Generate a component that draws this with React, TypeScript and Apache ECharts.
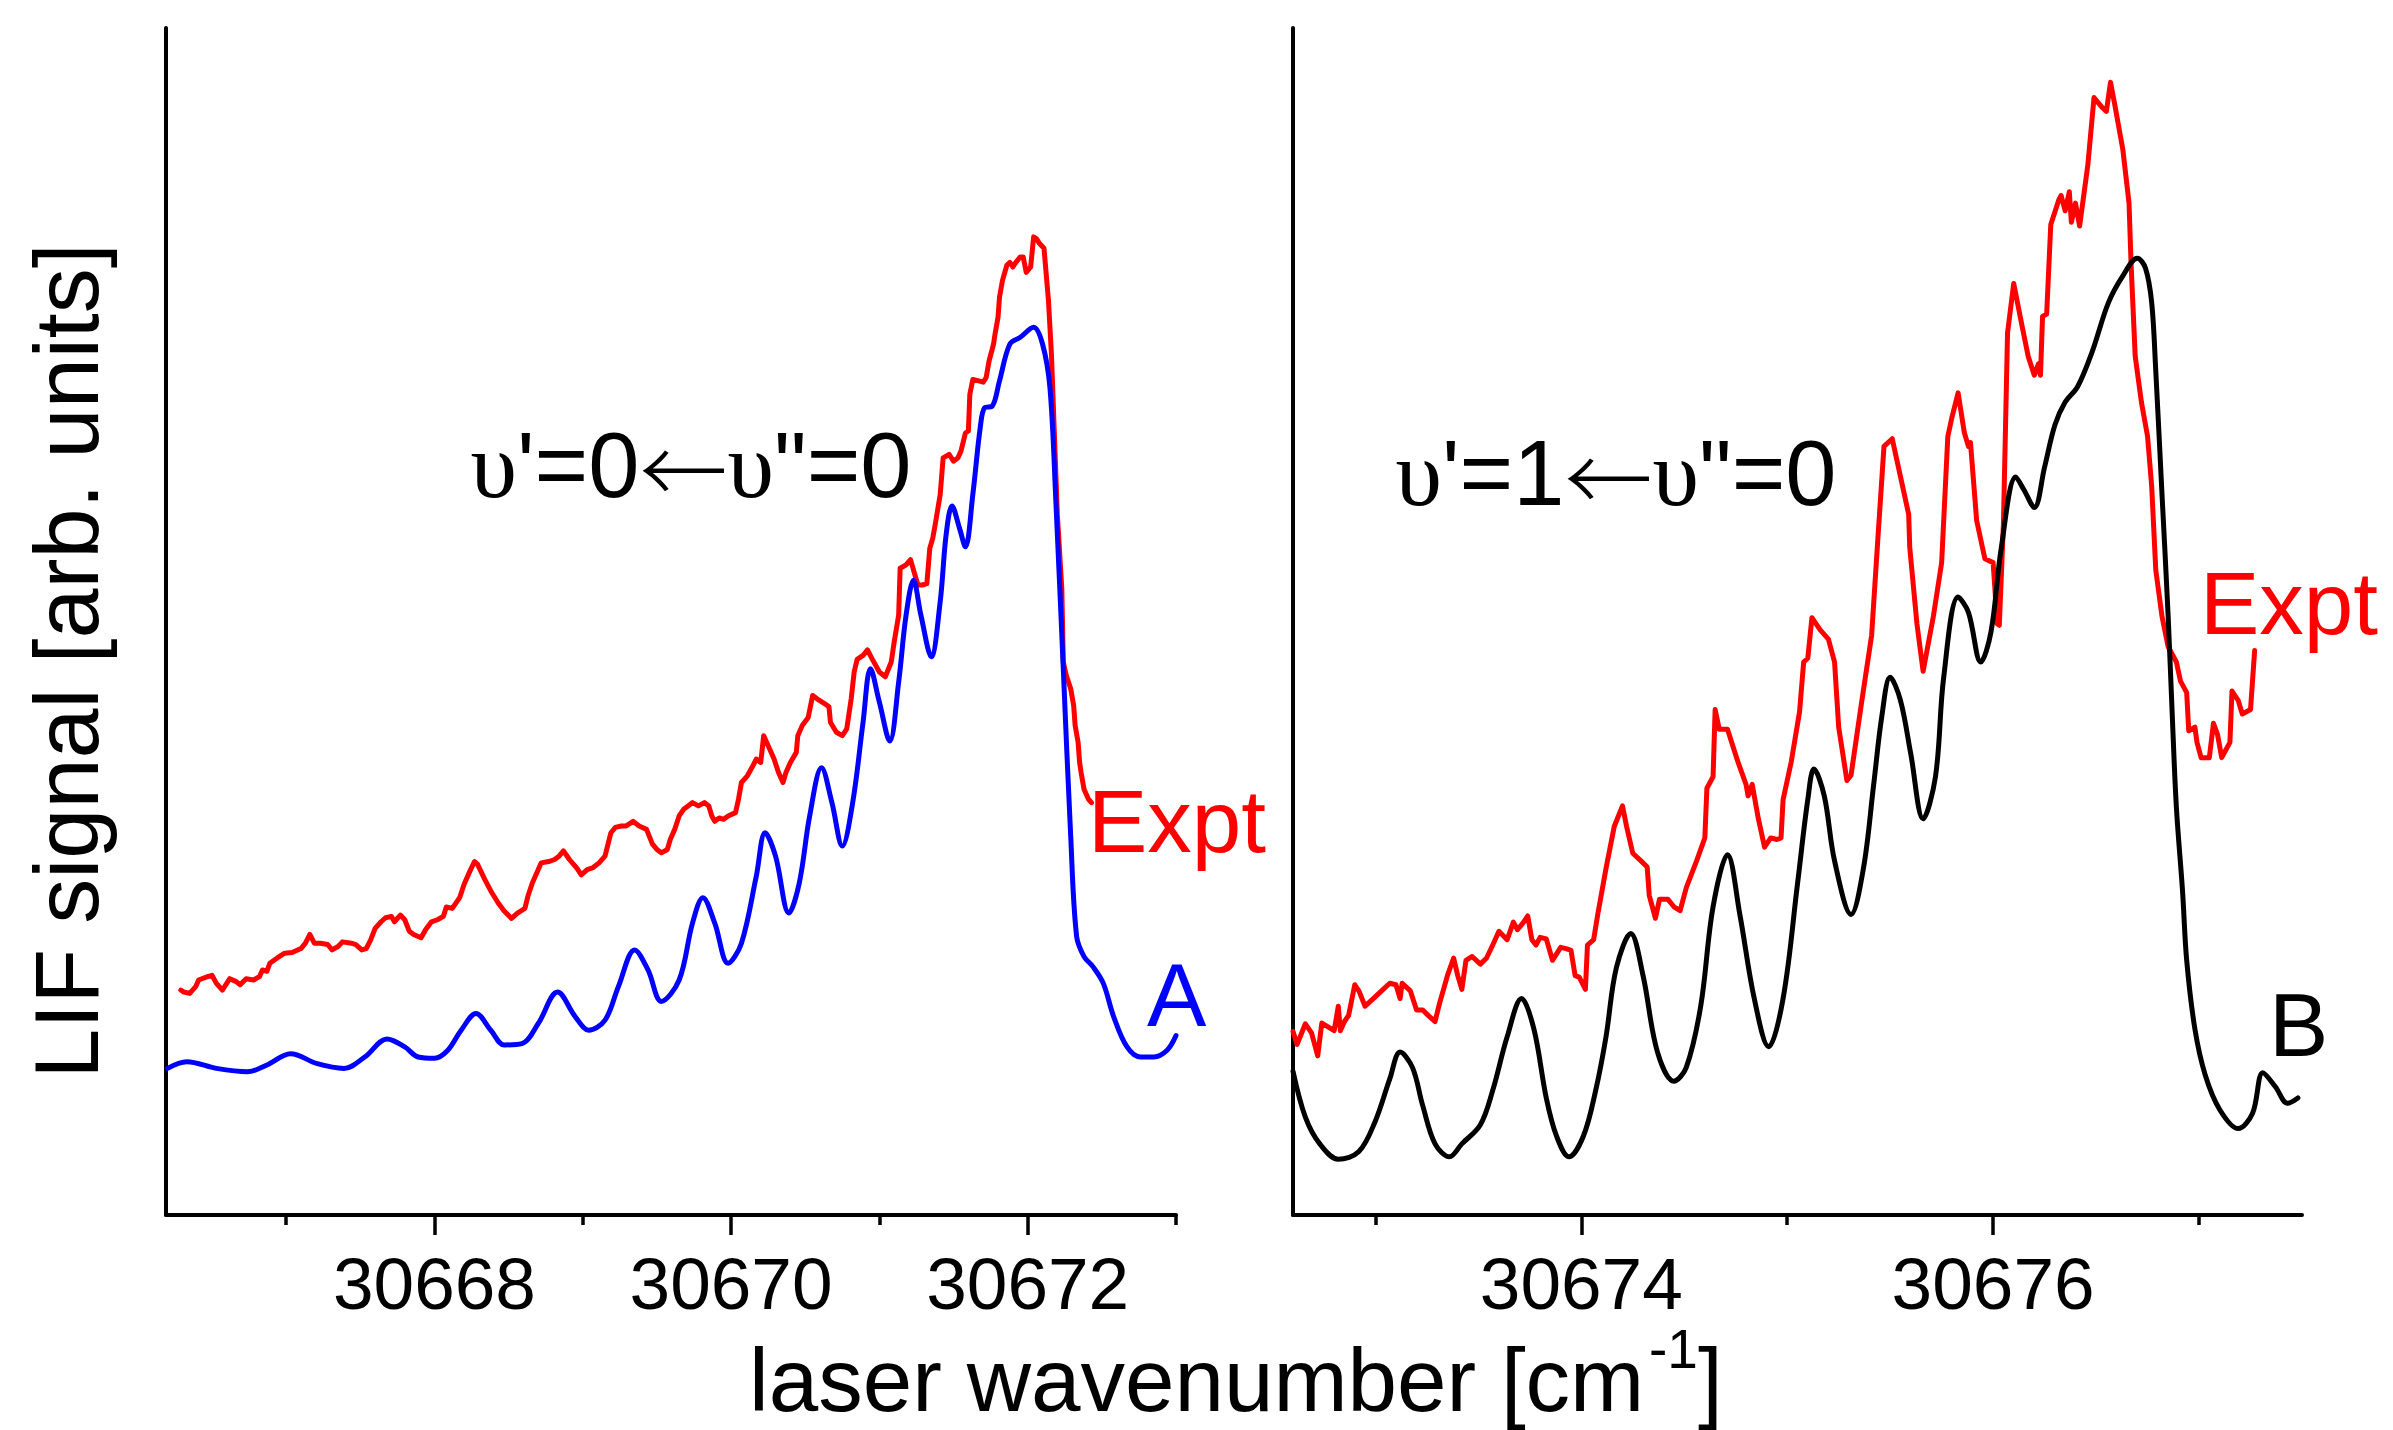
import React, { useEffect, useRef } from "react";
import * as echarts from "echarts";

// Panel A (v'=0 <- v''=0): x = laser wavenumber [cm-1], y = LIF signal (arb.)
const exptA: [number, number][] = [
  [30666.29,340],[30666.31,337],[30666.35,335],[30666.39,345],[30666.41,355],[30666.47,360],[30666.50,362],[30666.53,350],[30666.57,340],[30666.62,357],[30666.66,353],[30666.69,348],[30666.73,357],[30666.78,355],[30666.82,360],[30666.84,370],[30666.87,368],[30666.89,380],[30666.94,388],[30666.99,395],[30667.04,396],[30667.10,402],[30667.13,410],[30667.16,423],[30667.19,410],[30667.23,410],[30667.28,408],[30667.31,400],[30667.35,405],[30667.38,412],[30667.44,410],[30667.47,408],[30667.51,400],[30667.54,402],[30667.57,415],[30667.60,432],[30667.64,442],[30667.67,448],[30667.71,450],[30667.73,442],[30667.77,452],[30667.80,445],[30667.83,428],[30667.86,423],[30667.91,418],[30667.94,430],[30667.98,442],[30668.02,445],[30668.06,450],[30668.08,464],[30668.12,462],[30668.17,478],[30668.20,498],[30668.24,518],[30668.27,532],[30668.29,528],[30668.34,505],[30668.38,488],[30668.43,470],[30668.47,458],[30668.52,447],[30668.56,455],[30668.61,462],[30668.63,480],[30668.66,500],[30668.70,520],[30668.72,530],[30668.77,532],[30668.81,535],[30668.84,540],[30668.87,548],[30668.91,535],[30668.96,522],[30668.99,512],[30669.03,520],[30669.07,523],[30669.11,530],[30669.15,540],[30669.19,575],[30669.22,583],[30669.26,585],[30669.29,585],[30669.34,592],[30669.38,585],[30669.43,580],[30669.47,558],[30669.50,550],[30669.53,545],[30669.57,550],[30669.59,565],[30669.62,580],[30669.65,600],[30669.68,610],[30669.71,615],[30669.74,620],[30669.78,615],[30669.82,620],[30669.85,615],[30669.87,600],[30669.89,592],[30669.92,597],[30669.95,595],[30669.98,600],[30670.03,605],[30670.05,625],[30670.07,650],[30670.11,660],[30670.14,672],[30670.17,685],[30670.20,680],[30670.22,720],[30670.26,700],[30670.29,685],[30670.32,665],[30670.35,650],[30670.37,665],[30670.40,680],[30670.44,695],[30670.45,720],[30670.48,735],[30670.52,747],[30670.55,780],[30670.58,775],[30670.63,768],[30670.66,763],[30670.67,740],[30670.71,725],[30670.75,720],[30670.78,730],[30670.81,775],[30670.83,815],[30670.85,834],[30670.89,840],[30670.92,848],[30670.95,835],[30671.00,815],[30671.04,808],[30671.08,830],[30671.10,860],[30671.13,900],[30671.14,970],[30671.18,975],[30671.21,983],[30671.24,960],[30671.26,945],[30671.29,945],[30671.32,947],[30671.34,1000],[30671.36,1015],[30671.38,1040],[30671.41,1080],[30671.43,1135],[30671.47,1140],[30671.50,1130],[30671.53,1135],[30671.55,1145],[30671.58,1172],[30671.60,1175],[30671.61,1230],[30671.63,1252],[30671.67,1250],[30671.70,1248],[30671.72,1255],[30671.74,1280],[30671.77,1305],[30671.78,1320],[30671.80,1345],[30671.81,1375],[30671.83,1400],[30671.86,1423],[30671.88,1427],[30671.90,1420],[30671.92,1427],[30671.95,1435],[30671.97,1435],[30671.99,1412],[30672.02,1420],[30672.04,1465],[30672.06,1462],[30672.08,1455],[30672.11,1448],[30672.14,1370],[30672.16,1290],[30672.18,1170],[30672.20,1050],[30672.23,940],[30672.24,830],[30672.26,810],[30672.29,790],[30672.31,765],[30672.32,735],[30672.34,710],[30672.35,680],[30672.36,665],[30672.38,640],[30672.41,625],[30672.43,620]
];

const simA: [number, number][] = [
  [30666.2,223],[30666.33,233],[30666.53,223],[30666.74,218],[30666.87,228],[30667.03,245],[30667.21,230],[30667.39,223],[30667.53,240],[30667.68,267],[30667.80,255],[30667.89,240],[30668.00,238],[30668.09,250],[30668.18,280],[30668.28,305],[30668.38,280],[30668.47,258],[30668.59,260],[30668.70,290],[30668.83,337],[30668.95,300],[30669.04,280],[30669.15,295],[30669.24,345],[30669.35,400],[30669.44,370],[30669.53,323],[30669.65,355],[30669.74,440],[30669.81,478],[30669.89,440],[30669.98,380],[30670.07,410],[30670.17,510],[30670.23,575],[30670.30,540],[30670.39,455],[30670.46,500],[30670.53,600],[30670.61,672],[30670.68,620],[30670.75,555],[30670.82,620],[30670.89,740],[30670.94,820],[30671.00,770],[30671.07,712],[30671.13,800],[30671.18,900],[30671.23,952],[30671.28,900],[30671.35,838],[30671.41,920],[30671.45,1020],[30671.49,1063],[30671.54,1030],[30671.58,1002],[30671.63,1080],[30671.68,1180],[30671.71,1210],[30671.76,1212],[30671.81,1250],[30671.88,1305],[30671.95,1315],[30672.04,1330],[30672.10,1305],[30672.15,1240],[30672.19,1070],[30672.24,820],[30672.29,570],[30672.33,420],[30672.38,390],[30672.44,375],[30672.51,350],[30672.58,300],[30672.67,255],[30672.76,240],[30672.85,240],[30672.94,250],[30673.00,272]
];

// Panel B (v'=1 <- v''=0)
const exptB: [number, number][] = [
  [30672.60,243],[30672.62,226],[30672.66,253],[30672.69,241],[30672.72,211],[30672.74,254],[30672.77,249],[30672.80,244],[30672.82,276],[30672.83,244],[30672.85,256],[30672.87,264],[30672.90,304],[30672.92,296],[30672.95,276],[30672.99,286],[30673.03,296],[30673.07,306],[30673.10,304],[30673.12,286],[30673.13,306],[30673.17,296],[30673.20,271],[30673.23,271],[30673.26,263],[30673.29,256],[30673.31,278],[30673.35,316],[30673.38,339],[30673.40,316],[30673.42,298],[30673.44,336],[30673.47,341],[30673.51,331],[30673.54,339],[30673.57,356],[30673.60,374],[30673.64,363],[30673.67,386],[30673.69,376],[30673.72,386],[30673.74,394],[30673.76,363],[30673.78,356],[30673.80,366],[30673.83,364],[30673.86,336],[30673.90,353],[30673.93,351],[30673.95,349],[30673.97,316],[30673.99,314],[30674.02,298],[30674.03,356],[30674.06,363],[30674.08,396],[30674.12,456],[30674.16,511],[30674.20,538],[30674.22,511],[30674.25,476],[30674.29,466],[30674.32,458],[30674.33,421],[30674.36,391],[30674.38,416],[30674.42,416],[30674.45,406],[30674.48,401],[30674.51,431],[30674.56,466],[30674.60,496],[30674.61,561],[30674.64,576],[30674.65,664],[30674.67,638],[30674.71,638],[30674.76,596],[30674.80,566],[30674.81,551],[30674.83,566],[30674.86,521],[30674.89,484],[30674.92,496],[30674.95,494],[30674.97,496],[30674.98,546],[30675.02,596],[30675.06,661],[30675.08,726],[30675.10,731],[30675.12,784],[30675.16,768],[30675.20,756],[30675.23,726],[30675.25,641],[30675.29,571],[30675.31,578],[30675.36,671],[30675.41,761],[30675.44,886],[30675.47,1008],[30675.51,1018],[30675.59,919],[30675.595,876],[30675.63,776],[30675.66,714],[30675.71,786],[30675.75,856],[30675.78,1021],[30675.80,1046],[30675.83,1078],[30675.86,1026],[30675.88,1008],[30675.89,1013],[30675.92,911],[30675.96,861],[30676.00,856],[30676.02,776],[30676.03,774],[30676.05,906],[30676.07,1156],[30676.10,1221],[30676.14,1166],[30676.17,1126],[30676.20,1101],[30676.22,1116],[30676.23,1101],[30676.24,1178],[30676.26,1181],[30676.28,1298],[30676.32,1331],[30676.33,1336],[30676.35,1316],[30676.37,1341],[30676.38,1301],[30676.40,1326],[30676.42,1296],[30676.46,1376],[30676.49,1464],[30676.53,1451],[30676.55,1446],[30676.57,1484],[30676.59,1456],[30676.63,1396],[30676.66,1326],[30676.67,1246],[30676.69,1126],[30676.72,1066],[30676.75,1021],[30676.77,956],[30676.79,846],[30676.82,786],[30676.85,746],[30676.89,726],[30676.91,701],[30676.94,686],[30676.95,636],[30676.98,641],[30676.99,621],[30677.01,601],[30677.05,601],[30677.07,646],[30677.09,631],[30677.11,601],[30677.13,611],[30677.15,621],[30677.16,688],[30677.19,676],[30677.21,658],[30677.25,664],[30677.27,741]
];

const simB: [number, number][] = [
  [30672.60,191],[30672.66,131],[30672.73,96],[30672.82,76],[30672.92,86],[30673.00,126],[30673.07,181],[30673.12,216],[30673.18,196],[30673.23,146],[30673.29,96],[30673.36,79],[30673.42,96],[30673.51,121],[30673.57,166],[30673.64,236],[30673.71,286],[30673.77,246],[30673.83,156],[30673.88,106],[30673.94,79],[30674.01,106],[30674.07,166],[30674.12,236],[30674.17,326],[30674.24,371],[30674.30,316],[30674.37,216],[30674.45,178],[30674.51,196],[30674.58,276],[30674.64,406],[30674.71,474],[30674.77,396],[30674.84,286],[30674.91,223],[30674.98,286],[30675.05,436],[30675.10,546],[30675.13,586],[30675.18,551],[30675.23,466],[30675.31,396],[30675.37,456],[30675.42,566],[30675.46,656],[30675.50,706],[30675.55,676],[30675.60,606],[30675.66,521],[30675.72,576],[30675.76,706],[30675.83,811],[30675.88,791],[30675.94,726],[30675.99,766],[30676.04,876],[30676.11,968],[30676.15,951],[30676.20,928],[30676.25,981],[30676.30,1036],[30676.35,1066],[30676.41,1086],[30676.48,1131],[30676.56,1196],[30676.63,1231],[30676.70,1254],[30676.74,1241],[30676.77,1196],[30676.79,1106],[30676.82,946],[30676.85,786],[30676.87,656],[30676.89,536],[30676.92,426],[30676.94,336],[30676.98,246],[30677.03,186],[30677.10,141],[30677.19,116],[30677.26,136],[30677.31,189],[30677.37,171],[30677.43,149],[30677.48,156]
];

const majorTicksA = [30668, 30670, 30672];
const minorTicksA = [30667, 30669, 30671, 30673];
const majorTicksB = [30674, 30676];
const minorTicksB = [30673, 30675, 30677];

const FONT = '"Liberation Sans", Arial, sans-serif';
const SERIF = '"Liberation Serif", "DejaVu Serif", serif';
const ARROW = '"Noto Sans CJK JP", "Noto Sans CJK SC", "DejaVu Sans", sans-serif';

function majorAxis(gridIndex: number, min: number, max: number, ticks: number[]) {
  return {
    type: "value",
    gridIndex,
    position: "bottom",
    min,
    max,
    axisLine: { show: true, onZero: false, lineStyle: { color: "#000", width: 4 } },
    axisTick: { show: true, customValues: ticks, length: 20, lineStyle: { color: "#000", width: 3.5 } },
    axisLabel: {
      show: true,
      customValues: ticks,
      margin: 32,
      fontSize: 73,
      fontFamily: FONT,
      color: "#000",
      formatter: (v: number) => String(v),
    },
    splitLine: { show: false },
  };
}

function minorAxis(gridIndex: number, min: number, max: number, ticks: number[]) {
  return {
    type: "value",
    gridIndex,
    position: "bottom",
    min,
    max,
    axisLine: { show: false, onZero: false },
    axisTick: { show: true, customValues: ticks, length: 10, lineStyle: { color: "#000", width: 3.5 } },
    axisLabel: { show: false },
    splitLine: { show: false },
  };
}

function yAxisDef(gridIndex: number, min: number, max: number) {
  return {
    type: "value",
    gridIndex,
    min,
    max,
    axisLine: { show: true, onZero: false, lineStyle: { color: "#000", width: 4 } },
    axisTick: { show: false },
    axisLabel: { show: false },
    splitLine: { show: false },
  };
}

function label(x: number, y: number, text: string, color: string, size = 89, align = "left") {
  return {
    type: "text",
    x,
    y,
    style: {
      text,
      fill: color,
      fontSize: size,
      fontFamily: FONT,
      align,
      textAlign: align,
      verticalAlign: "middle",
      textVerticalAlign: "middle",
    },
  };
}

function transition(x: number, y: number, upper: string) {
  return {
    type: "text",
    x,
    y,
    style: {
      text: "{g|υ}'=" + upper + "{a|←}{g|υ}\"=0",
      fill: "#000",
      fontSize: 92,
      fontFamily: FONT,
      align: "center",
      textAlign: "center",
      verticalAlign: "middle",
      textVerticalAlign: "middle",
      rich: {
        g: { fontFamily: SERIF, fontSize: 94, fill: "#000" },
        a: { fontFamily: ARROW, fontSize: 88, fill: "#000", fontWeight: 300 },
      },
    },
  };
}

export default function App() {
  const ref = useRef<HTMLDivElement>(null);
  useEffect(() => {
    if (!ref.current) return;
    const chart = echarts.init(ref.current, undefined, { renderer: "svg" });
    const line = (data: [number, number][], color: string, xi: number, yi: number, smooth: number | boolean) => ({
      type: "line",
      xAxisIndex: xi,
      yAxisIndex: yi,
      data,
      smooth,
      showSymbol: false,
      symbol: "none",
      lineStyle: { color, width: 5, join: "round", cap: "round" },
      emphasis: { disabled: true },
      silent: true,
      z: 3,
    });
    chart.setOption({
      animation: false,
      backgroundColor: "#fff",
      grid: [
        { left: 166, top: 28, width: 1010, height: 1187 },
        { left: 1293, top: 28, width: 1009, height: 1187 },
      ],
      xAxis: [
        majorAxis(0, 30666.19, 30673, majorTicksA),
        minorAxis(0, 30666.19, 30673, minorTicksA),
        majorAxis(1, 30672.6, 30677.5, majorTicksB),
        minorAxis(1, 30672.6, 30677.5, minorTicksB),
      ],
      yAxis: [yAxisDef(0, 4, 1777), yAxisDef(1, 3, 1555)],
      series: [
        line(exptA, "#ff0000", 0, 0, false),
        line(simA, "#0000ff", 0, 0, 0.35),
        line(exptB, "#ff0000", 2, 1, false),
        line(simB, "#000000", 2, 1, 0.35),
      ],
      graphic: [
        {
          type: "text",
          x: 67,
          y: 661,
          rotation: Math.PI / 2,
          style: {
            text: "LIF signal [arb. units]",
            fill: "#000",
            fontSize: 90,
            fontFamily: FONT,
            align: "center",
            textAlign: "center",
            verticalAlign: "middle",
            textVerticalAlign: "middle",
          },
        },
        label(749, 1380, "laser wavenumber [cm", "#000", 89),
        label(1649, 1349, "-1", "#000", 55),
        label(1698, 1380, "]", "#000", 89),
        transition(691, 465, "0"),
        transition(1616, 473, "1"),
        label(1088, 821, "Expt", "#ff0000", 89),
        label(1147, 995, "A", "#0000ff", 89),
        label(2200, 603, "Expt", "#ff0000", 89),
        label(2269, 1025, "B", "#000", 89),
      ],
    });
    return () => chart.dispose();
  }, []);
  return (
    <div
      ref={ref}
      style={{ position: "absolute", left: 0, top: 0, width: 2393, height: 1430, background: "#fff" }}
    />
  );
}
